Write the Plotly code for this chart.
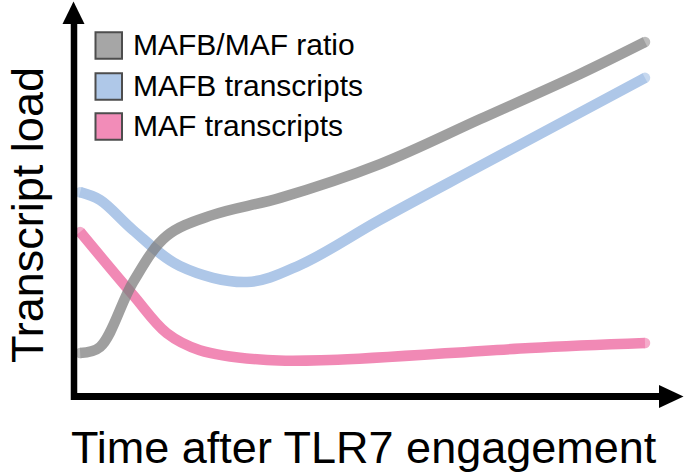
import plotly.graph_objects as go

# ---------------- data (schematic values) ----------------
series_names = ["MAFB/MAF ratio", "MAFB transcripts", "MAF transcripts"]

ratio_t = [0.9, 4.4, 10.2, 16.1, 24.2, 36.0, 53.5, 71.1, 88.6, 100]
ratio_y = [12.4, 14.1, 32.4, 45.4, 51.3, 56.1, 65.6, 78.3, 91.0, 100]

mafb_t = [0.9, 4.4, 10.2, 18.4, 30.2, 39.5, 53.5, 71.1, 100]
mafb_y = [57.7, 55.5, 47.0, 36.9, 32.4, 37.2, 49.9, 65.1, 89.9]

maf_t = [0.9, 10.2, 16.1, 21.9, 33.7, 44.7, 79.8, 100]
maf_y = [46.5, 28.7, 18.0, 13.2, 10.4, 10.4, 13.8, 15.2]

x_title = "Time after TLR7 engagement"
y_title = "Transcript load"

# ---------------- styling ----------------
W, H = 685, 475
ML, MR, MT, MB = 75, 2, 2, 78
PX_PER_T = 5.7
PX_PER_Y = 3.55
FONT = "Liberation Sans, Arial, sans-serif"

line_colors = {"MAFB/MAF ratio": "#808080", "MAFB transcripts": "#aec7e8", "MAF transcripts": "#f189b5"}
line_opac = {"MAFB/MAF ratio": 0.75, "MAFB transcripts": 1.0, "MAF transcripts": 1.0}
box_colors = {"MAFB/MAF ratio": "#a6a6a6", "MAFB transcripts": "#afc8e8", "MAF transcripts": "#f28cb8"}

plot_w = W - ML - MR
plot_h = H - MT - MB


def pxx(x):  # pixel x -> paper
    return (x - ML) / plot_w


def pxy(y):  # pixel y -> paper
    return (H - MB - y) / plot_h


fig = go.Figure()
LW = 10.5
data = {
    "MAF transcripts": (maf_t, maf_y),
    "MAFB transcripts": (mafb_t, mafb_y),
    "MAFB/MAF ratio": (ratio_t, ratio_y),
}
for name in ["MAF transcripts", "MAFB transcripts", "MAFB/MAF ratio"]:
    t, y = data[name]
    sizes = [0] * len(t)
    sizes[0] = LW
    sizes[-1] = LW
    fig.add_trace(go.Scatter(
        x=t, y=y, name=name, mode="lines+markers",
        line=dict(color=line_colors[name], width=LW, shape="spline", smoothing=1.0),
        marker=dict(size=sizes, color=line_colors[name], line=dict(width=0)),
        opacity=line_opac[name], cliponaxis=False, showlegend=False, hoverinfo="skip",
    ))

shapes = []
# axis lines
shapes.append(dict(type="line", xref="paper", yref="paper",
                   x0=pxx(74), x1=pxx(74), y0=pxy(400), y1=pxy(20),
                   line=dict(color="black", width=6.5)))
shapes.append(dict(type="line", xref="paper", yref="paper",
                   x0=pxx(71), x1=pxx(662), y0=pxy(396.5), y1=pxy(396.5),
                   line=dict(color="black", width=7)))
# arrow heads
shapes.append(dict(type="path", xref="paper", yref="paper",
                   path=f"M{pxx(62.5)},{pxy(24)} L{pxx(84.5)},{pxy(24)} L{pxx(73.5)},{pxy(1.5)} Z",
                   fillcolor="black", line=dict(width=0)))
shapes.append(dict(type="path", xref="paper", yref="paper",
                   path=f"M{pxx(659)},{pxy(385)} L{pxx(659)},{pxy(408)} L{pxx(683.5)},{pxy(396.5)} Z",
                   fillcolor="black", line=dict(width=0)))

annotations = []
# legend (manual, square swatches)
row_centers = [45.5, 86.5, 126.5]
for name, yc in zip(series_names, row_centers):
    shapes.append(dict(type="rect", xref="paper", yref="paper",
                       x0=pxx(95.5), x1=pxx(122), y0=pxy(yc - 13.25), y1=pxy(yc + 13.25),
                       fillcolor=box_colors[name], line=dict(color="#4d4d4d", width=2)))
    annotations.append(dict(xref="paper", yref="paper", x=pxx(131), y=pxy(yc - 1.5),
                            xanchor="left", yanchor="middle", showarrow=False, text=name,
                            font=dict(family=FONT, size=30, color="black")))

annotations.append(dict(xref="paper", yref="paper", x=pxx(364), y=pxy(447.5),
                        xanchor="center", yanchor="middle", showarrow=False, text=x_title,
                        font=dict(family=FONT, size=45, color="black")))
annotations.append(dict(xref="paper", yref="paper", x=pxx(27), y=pxy(215),
                        xanchor="center", yanchor="middle", showarrow=False, text=y_title,
                        textangle=-90, font=dict(family=FONT, size=45, color="black")))

fig.update_layout(
    width=W, height=H,
    margin=dict(l=ML, r=MR, t=MT, b=MB, pad=0),
    paper_bgcolor="white", plot_bgcolor="white",
    xaxis=dict(range=[0, plot_w / PX_PER_T], visible=False, fixedrange=True),
    yaxis=dict(range=[0, plot_h / PX_PER_Y], visible=False, fixedrange=True),
    shapes=shapes, annotations=annotations, showlegend=False,
)

fig.write_html("out.html", config={"staticPlot": True},
               post_script="document.body.style.margin='0';document.body.style.overflow='hidden';")
